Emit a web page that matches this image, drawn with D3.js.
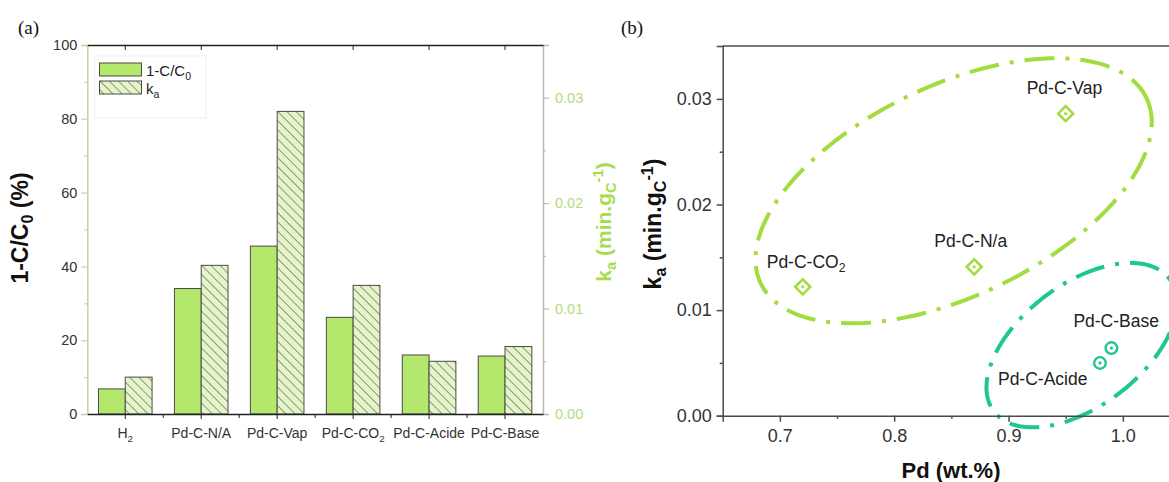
<!DOCTYPE html>
<html><head><meta charset="utf-8">
<script src="https://cdn.jsdelivr.net/npm/d3@7"></script>
<style>
body{margin:0;background:#fff;}
svg{display:block;font-family:"Liberation Sans",Arial,sans-serif;}
</style></head>
<body>
<svg id="chart" width="1169" height="482"></svg>
<script>
// ---------- DATA ----------
const categories = ["H2","Pd-C-N/A","Pd-C-Vap","Pd-C-CO2","Pd-C-Acide","Pd-C-Base"];
const conversion = [6.8, 34.0, 45.5, 26.2, 16.0, 15.7];          // 1-C/C0 (%)
const kaValues   = [0.0035, 0.0141, 0.0287, 0.0122, 0.0050, 0.0064]; // ka (min.gC-1)
const leftTicks  = [0, 20, 40, 60, 80, 100];
const rightTicks = [0.00, 0.01, 0.02, 0.03];

const sampleNames = ["Pd-C-CO2","Pd-C-N/a","Pd-C-Vap","Pd-C-Acide","Pd-C-Base"];
const pdContent   = [0.72, 0.87, 0.95, 0.98, 0.99];                  // Pd (wt.%)
const sampleKa    = [0.0122, 0.0141, 0.0286, 0.0050, 0.0064];
const sampleGroup = [0, 0, 0, 1, 1];
const bxTicks = [0.7, 0.8, 0.9, 1.0];
const byTicks = [0.00, 0.01, 0.02, 0.03];
// group ellipses: centre in data units, semi-axes (px) and tilt (deg)
const ellipseCx = [0.852, 0.964];
const ellipseCy = [0.0213, 0.00668];
const ellipseA  = [214, 110];
const ellipseB  = [105, 61];
const ellipseTilt = [25.7, 37];

const lime = "#a2dc3e", teal = "#1cc88a";
const groupColor = [lime, teal];

const svg = d3.select("#chart");
const defs = svg.append("defs");
const pat = defs.append("pattern").attr("id","hatch").attr("patternUnits","userSpaceOnUse")
  .attr("width",6.5).attr("height",6.5).attr("patternTransform","rotate(-45)");
pat.append("rect").attr("width",6.5).attr("height",6.5).attr("fill","#e4f5c8");
pat.append("line").attr("x1",0).attr("y1",0).attr("x2",0).attr("y2",6.5).attr("stroke","#3a3a3a").attr("stroke-width",1);

function sub(sel, text){
  sel.text(null);
  if (text==="H2"){ sel.append("tspan").text("H"); sel.append("tspan").attr("dy",4).attr("font-size","0.7em").text("2"); }
  else if (text.endsWith("CO2")){ sel.append("tspan").text(text.slice(0,-1)); sel.append("tspan").attr("dy",4).attr("font-size","0.7em").text("2"); }
  else sel.text(text);
}
function kaTitle(t){
  t.append("tspan").text("k");
  t.append("tspan").attr("dy",5).attr("font-size","0.7em").text("a");
  t.append("tspan").attr("dy",-5).text(" (min.g");
  t.append("tspan").attr("dy",5).attr("font-size","0.7em").text("C");
  t.append("tspan").attr("dy",-13).attr("font-size","0.7em").text("-1");
  t.append("tspan").attr("dy",8).text(")");
}

// ---------- PANEL A ----------
const ax = d3.scaleBand().domain(categories).range([87.3, 543]).paddingInner(0).paddingOuter(0);
const ayL = d3.scaleLinear().domain([0,100]).range([414, 45]);
const ayR = d3.scaleLinear().domain([0,0.035]).range([414, 45]);
const bw = 26.8;

const gA = svg.append("g");
gA.selectAll("rect.conv").data(categories).join("rect").attr("class","conv")
  .attr("x", d => ax(d)+ax.bandwidth()/2 - bw).attr("width", bw)
  .attr("y", (d,i) => ayL(conversion[i])).attr("height", (d,i) => ayL(0)-ayL(conversion[i]))
  .attr("fill","#b4e86c").attr("stroke","#4a4a4a").attr("stroke-width",1);
gA.selectAll("rect.ka").data(categories).join("rect").attr("class","ka")
  .attr("x", d => ax(d)+ax.bandwidth()/2).attr("width", bw)
  .attr("y", (d,i) => ayR(kaValues[i])).attr("height", (d,i) => ayR(0)-ayR(kaValues[i]))
  .attr("fill","url(#hatch)").attr("stroke","#4a4a4a").attr("stroke-width",1);

const leftAx = gA.append("g").attr("transform","translate(87.3,0)")
  .call(d3.axisLeft(ayL).tickValues(leftTicks).tickSize(6).tickPadding(4).tickFormat(d3.format("d")));
leftAx.select(".domain").attr("stroke","#c2d6a0").attr("stroke-width",1.5);
leftAx.selectAll(".tick line").attr("stroke","#c2d6a0").attr("stroke-width",1.2);
leftAx.selectAll("text").attr("font-size",14.5).attr("fill","#333");
gA.append("g").attr("transform","translate(87.3,0)")
  .call(d3.axisLeft(ayL).tickValues([10,30,50,70,90]).tickSize(3).tickFormat(""))
  .call(g=>{g.select(".domain").remove(); g.selectAll("line").attr("stroke","#c2d6a0").attr("stroke-width",1.2);});

const rightAx = gA.append("g").attr("transform","translate(543,0)")
  .call(d3.axisRight(ayR).tickValues(rightTicks).tickSize(6).tickPadding(6).tickFormat(d3.format(".2f")));
rightAx.select(".domain").attr("stroke","#b8bbb0").attr("stroke-width",1.5);
rightAx.selectAll(".tick line").attr("stroke","#b8bbb0").attr("stroke-width",1.2);
rightAx.selectAll("text").attr("font-size",14.5).attr("fill","#b2dc78");
gA.append("g").attr("transform","translate(543,0)")
  .call(d3.axisRight(ayR).tickValues([0.005,0.015,0.025]).tickSize(3).tickFormat(""))
  .call(g=>{g.select(".domain").remove(); g.selectAll("line").attr("stroke","#b8bbb0").attr("stroke-width",1.2);});

const botAx = gA.append("g").attr("transform","translate(0,414)")
  .call(d3.axisBottom(ax).tickSize(5).tickPadding(9).tickSizeOuter(0));
botAx.select(".domain").attr("stroke","#222").attr("stroke-width",1.6);
botAx.selectAll(".tick line").attr("stroke","#222");
botAx.selectAll("text").attr("font-size",14).attr("fill","#333").each(function(d){ sub(d3.select(this), d); });
gA.append("g").selectAll("line").data(categories.slice(1)).join("line")
  .attr("x1", d => ax(d)).attr("x2", d => ax(d)).attr("y1",414).attr("y2",418).attr("stroke","#222");
const topAx = gA.append("g").attr("transform","translate(0,45)")
  .call(d3.axisTop(ax).tickSize(-5).tickFormat("").tickSizeOuter(0));
topAx.select(".domain").attr("stroke","#222").attr("stroke-width",1.6);
topAx.selectAll(".tick line").attr("stroke","#222");

const tL = gA.append("text").attr("transform","translate(28,228) rotate(-90)").attr("text-anchor","middle")
  .attr("font-size",23).attr("font-weight","bold").attr("fill","#111");
tL.append("tspan").text("1-C/C");
tL.append("tspan").attr("dy",5).attr("font-size","0.7em").text("0");
tL.append("tspan").attr("dy",-5).text(" (%)");
const tR = gA.append("text").attr("transform","translate(611,222) rotate(-90)").attr("text-anchor","middle")
  .attr("font-size",21).attr("font-weight","bold").attr("fill","#a6dc50");
kaTitle(tR);

const lg = gA.append("g");
lg.append("rect").attr("x",95).attr("y",56).attr("width",111).attr("height",62).attr("fill","#fff").attr("stroke","#efefef");
lg.append("rect").attr("x",99.5).attr("y",63).attr("width",42).attr("height",13).attr("fill","#b4e86c").attr("stroke","#4a4a4a");
lg.append("rect").attr("x",99.5).attr("y",81).attr("width",42).attr("height",13).attr("fill","url(#hatch)").attr("stroke","#4a4a4a");
const l1 = lg.append("text").attr("x",146).attr("y",76).attr("font-size",15).attr("fill","#222");
l1.append("tspan").text("1-C/C"); l1.append("tspan").attr("dy",4).attr("font-size","0.7em").text("0");
const l2 = lg.append("text").attr("x",146).attr("y",94).attr("font-size",15).attr("fill","#222");
l2.append("tspan").text("k"); l2.append("tspan").attr("dy",4).attr("font-size","0.7em").text("a");

svg.append("text").attr("x",18).attr("y",34).attr("font-family","'Liberation Serif','Times New Roman',serif")
  .attr("font-size",19).attr("fill","#111").text("(a)");

// ---------- PANEL B ----------
const bx = d3.scaleLinear().domain([0.65,1.05]).range([722.7, 1180]);
const by = d3.scaleLinear().domain([0,0.035]).range([415.7, 46.1]);
const gB = svg.append("g");

ellipseCx.forEach((cx,k) => {
  const c = [bx(cx), by(ellipseCy[k])];
  const th = -ellipseTilt[k]*Math.PI/180;
  const pts = d3.range(0, 361, 2).map(t => {
    const r = t*Math.PI/180;
    const ex = ellipseA[k]*Math.cos(r), ey = ellipseB[k]*Math.sin(r);
    return [c[0] + ex*Math.cos(th) - ey*Math.sin(th), c[1] + ex*Math.sin(th) + ey*Math.cos(th)];
  });
  gB.append("path").attr("d", d3.line()(pts)).attr("fill","none").attr("stroke",groupColor[k])
    .attr("stroke-width",4).attr("stroke-dasharray","30 11 4 11");
});

const bLeft = gB.append("g").attr("transform","translate(722.7,0)")
  .call(d3.axisLeft(by).tickValues(byTicks).tickSize(6).tickPadding(5).tickFormat(d3.format(".2f")));
bLeft.selectAll("text").attr("font-size",18).attr("fill","#333");
gB.append("g").attr("transform","translate(722.7,0)")
  .call(d3.axisLeft(by).tickValues([0.005,0.015,0.025]).tickSize(3).tickFormat(""))
  .call(g=>g.select(".domain").remove());
const bBot = gB.append("g").attr("transform","translate(0,415.7)")
  .call(d3.axisBottom(bx).tickValues(bxTicks).tickSize(6).tickPadding(8).tickFormat(d3.format(".1f")));
bBot.selectAll("text").attr("font-size",18).attr("fill","#333");
gB.append("g").attr("transform","translate(0,415.7)")
  .call(d3.axisBottom(bx).tickValues([0.75,0.85,0.95,1.05]).tickSize(3).tickFormat(""))
  .call(g=>g.select(".domain").remove());
gB.append("line").attr("x1",722.7).attr("x2",1180).attr("y1",46.1).attr("y2",46.1);
gB.selectAll(".domain, .tick line, line").attr("stroke","#4a4a4a").attr("stroke-width",1.5);

const pts = gB.selectAll("g.pt").data(sampleNames).join("g").attr("class","pt")
  .attr("transform",(d,i)=>`translate(${bx(pdContent[i])},${by(sampleKa[i])})`);
pts.each(function(d,i){
  const g = d3.select(this), col = groupColor[sampleGroup[i]];
  if (sampleGroup[i]===0){
    g.append("path").attr("d","M0,-7.5L7.5,0L0,7.5L-7.5,0Z").attr("fill","none").attr("stroke",col).attr("stroke-width",2.6);
  } else {
    g.append("circle").attr("r",5.8).attr("fill","none").attr("stroke",col).attr("stroke-width",2.4);
  }
  g.append("circle").attr("r",1.6).attr("fill",col);
});

const labelDx = [-36, -40, -39, -102, -38];
const labelDy = [-19, -20, -20, 22, -21];
gB.selectAll("text.lab").data(sampleNames).join("text").attr("class","lab")
  .attr("x",(d,i)=>bx(pdContent[i])+labelDx[i]).attr("y",(d,i)=>by(sampleKa[i])+labelDy[i])
  .attr("font-size",17.5).attr("fill","#222").each(function(d){ sub(d3.select(this), d); });

const bt = gB.append("text").attr("transform","translate(661,224) rotate(-90)").attr("text-anchor","middle")
  .attr("font-size",23).attr("font-weight","bold").attr("fill","#111");
kaTitle(bt);
gB.append("text").attr("x",951).attr("y",478).attr("text-anchor","middle").attr("font-size",22)
  .attr("font-weight","bold").attr("fill","#111").text("Pd (wt.%)");
svg.append("text").attr("x",621).attr("y",34).attr("font-family","'Liberation Serif','Times New Roman',serif")
  .attr("font-size",19).attr("fill","#111").text("(b)");
</script>
</body></html>
